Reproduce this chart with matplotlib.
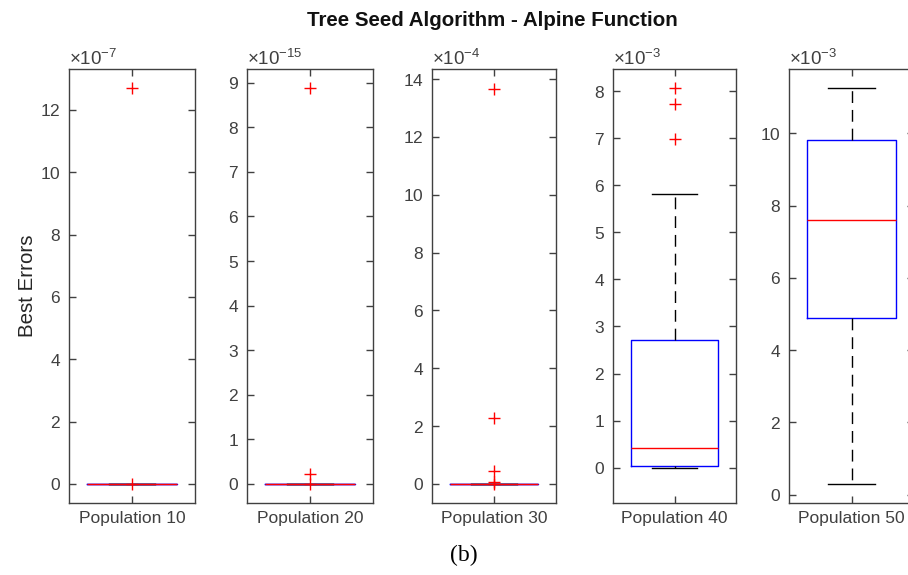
import numpy as np
import matplotlib
matplotlib.use('Agg')
import matplotlib.pyplot as plt
from matplotlib.ticker import ScalarFormatter

plt.rcParams['font.family'] = ['Liberation Sans', 'DejaVu Sans']
plt.rcParams['mathtext.fontset'] = 'custom'
plt.rcParams['mathtext.rm'] = 'Liberation Sans'
plt.rcParams['mathtext.it'] = 'Liberation Sans'

# data
labels = ['Population 10', 'Population 20', 'Population 30', 'Population 40', 'Population 50']
exponents = [-7, -15, -4, -3, -3]
medians = [0.0, 0.0, 0.0, 0.41e-3, 7.61e-3]
q1s = [0.0, 0.0, 0.0, 0.03e-3, 4.90e-3]
q3s = [0.0, 0.0, 0.0, 2.71e-3, 9.82e-3]
whis_lo = [0.0, 0.0, 0.0, 0.0, 0.29e-3]
whis_hi = [0.0, 0.0, 0.0, 5.82e-3, 11.26e-3]
fliers = [
    [0.0, 12.7e-7],
    [0.0, 0.22e-15, 8.88e-15],
    [0.0, 0.07e-4, 0.43e-4, 2.29e-4, 13.65e-4],
    [6.98e-3, 7.72e-3, 8.06e-3],
    [],
]
ylims = [(-0.61e-7, 13.31e-7), (-0.43e-15, 9.31e-15), (-0.66e-4, 14.35e-4),
         (-0.75e-3, 8.47e-3), (-0.23e-3, 11.78e-3)]
yticks = [np.arange(0, 13, 2) * 1e-7, np.arange(0, 10) * 1e-15,
          np.arange(0, 15, 2) * 1e-4, np.arange(0, 9) * 1e-3,
          np.arange(0, 11, 2) * 1e-3]

W, H = 908, 575
lefts = [69, 247, 432, 613, 789]
widths = [126, 126, 124, 123, 125]
top_px, bot_px = 69, 503

axcol = '#404040'
fig = plt.figure(figsize=(W / 100, H / 100), dpi=100)

for i in range(5):
    ax = fig.add_axes([lefts[i] / W, (H - bot_px) / H, widths[i] / W, (bot_px - top_px) / H])
    st = dict(med=medians[i], q1=q1s[i], q3=q3s[i], whislo=whis_lo[i],
              whishi=whis_hi[i], fliers=fliers[i], label=labels[i])
    ax.bxp([st], positions=[1], widths=0.71, capwidths=0.37, showfliers=True,
           boxprops=dict(color='#0000ff', linewidth=1.0),
           medianprops=dict(color='#ff0000', linewidth=1.0),
           whiskerprops=dict(color='black', linewidth=1.0, linestyle=(0, (8.5, 5))),
           capprops=dict(color='black', linewidth=1.0),
           flierprops=dict(marker='+', markeredgecolor='#ff0000', markersize=8.5,
                           markeredgewidth=1.0, linestyle='none'))
    ax.set_xlim(0.5, 1.5)
    ax.set_ylim(*ylims[i])
    ax.set_yticks(yticks[i])
    fmt = ScalarFormatter(useMathText=True)
    fmt.set_powerlimits((exponents[i], exponents[i]))
    ax.yaxis.set_major_formatter(fmt)
    ax.yaxis.get_offset_text().set_fontsize(13.5)
    ax.yaxis.get_offset_text().set_color(axcol)
    ax.set_xticks([1])
    ax.set_xticklabels([labels[i]])
    ax.tick_params(direction='in', length=5, width=1, colors=axcol,
                   labelsize=12.5, top=True, right=True, pad=6)
    for s in ax.spines.values():
        s.set_color(axcol)
        s.set_linewidth(1.0)
    if i == 0:
        ax.set_ylabel('Best Errors', fontsize=14.8, color='#262626', labelpad=2)

fig.text(492 / W, 1 - 20 / H, 'Tree Seed Algorithm - Alpine Function',
         ha='center', va='center', fontsize=14.8, fontweight='bold', color='#111111')
fig.text(464 / W, 1 - 555 / H, '(b)', ha='center', va='center', fontsize=17,
         family='Liberation Serif', color='black')

fig.savefig('out.png', dpi=100)
